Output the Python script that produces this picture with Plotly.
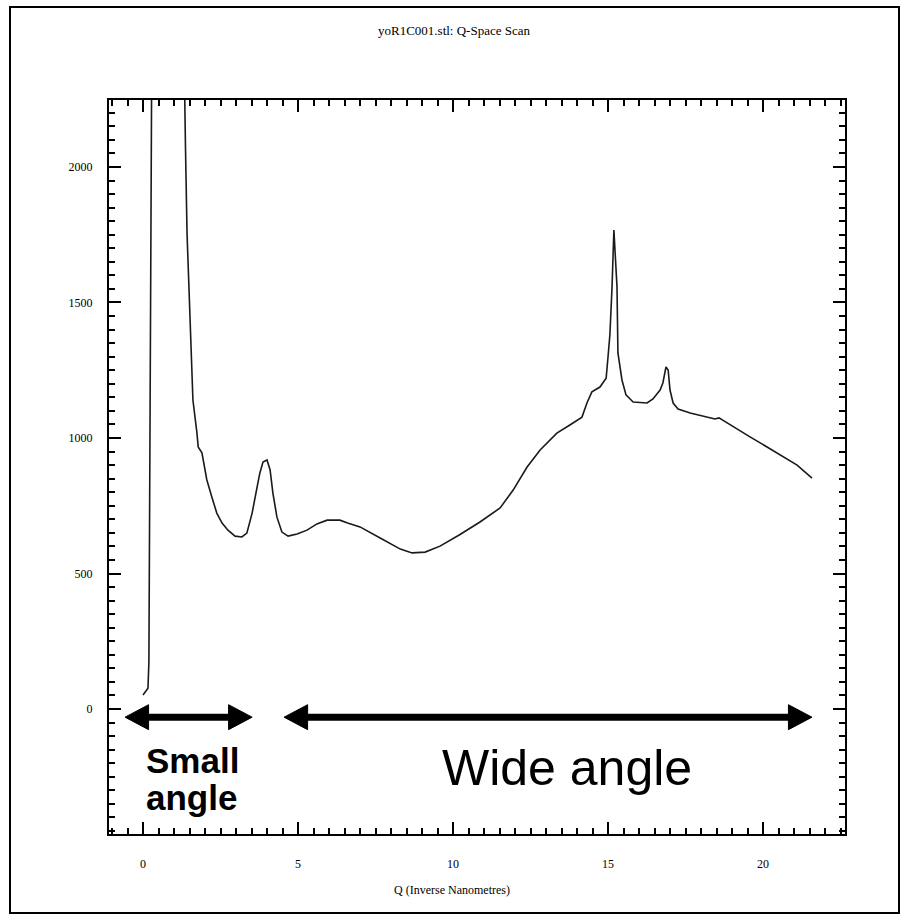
import plotly.graph_objects as go

# ---- data ----
q_values = [0.00, 0.16, 0.19, 0.22, 0.29, 1.30, 1.32, 1.37, 1.42, 1.61, 1.74, 1.78, 1.90,
            2.06, 2.22, 2.38, 2.55, 2.74, 2.97, 3.19, 3.35, 3.52, 3.68, 3.77, 3.87, 4.00,
            4.10, 4.19, 4.32, 4.48, 4.68, 4.97, 5.29, 5.61, 5.94, 6.35, 6.60, 7.00, 7.65,
            8.30, 8.68, 9.10, 9.58, 10.20, 10.87, 11.52, 11.94, 12.39, 12.81, 13.35, 13.77,
            14.16, 14.32, 14.48, 14.74, 14.94, 15.00, 15.06, 15.13, 15.19, 15.29, 15.32,
            15.45, 15.58, 15.81, 16.26, 16.45, 16.68, 16.77, 16.87, 16.94, 17.00, 17.10,
            17.26, 17.65, 18.19, 18.45, 18.58, 18.94, 19.58, 20.13, 20.65, 21.10, 21.58]
intensity = [52, 77, 173, 760, 2600, 2600, 2400, 2074, 1756, 1140, 1018, 967, 945,
             845, 782, 723, 686, 660, 638, 635, 649, 723, 819, 871, 911, 919,
             882, 797, 708, 653, 638, 646, 660, 683, 697, 697, 686, 672, 631,
             590, 576, 579, 601, 642, 690, 742, 808, 893, 956, 1018, 1048,
             1077, 1129, 1170, 1188, 1221, 1299, 1380, 1557, 1767, 1557, 1314,
             1214, 1159, 1133, 1129, 1144, 1177, 1203, 1262, 1251, 1177, 1129,
             1107, 1092, 1077, 1070, 1074, 1048, 1004, 967, 930, 900, 852]

x_tick_vals = [0, 5, 10, 15, 20]
x_tick_text = ["0", "5", "10", "15", "20"]
y_tick_vals = [0, 500, 1000, 1500, 2000]
y_tick_text = ["0", "500", "1000", "1500", "2000"]

small_angle_range = [-0.58, 3.52]
wide_angle_range = [4.55, 21.58]
arrow_level = -30

title_text = "yoR1C001.stl: Q-Space Scan"
x_title_text = "Q (Inverse Nanometres)"

# ---- layout geometry (pixels) ----
W, H = 903, 916
L, R, T, B = 109, 845, 100, 834
x_range = [-1.097, 22.645]
y_range = [-461, 2247]


def px_to_paper_x(px):
    return (px - L) / (R - L)


def py_to_paper_y(py):
    return (B - py) / (B - T)


fig = go.Figure()
fig.add_trace(go.Scatter(x=q_values, y=intensity, mode="lines",
                         line=dict(color="#1a1a1a", width=1.6), showlegend=False,
                         hoverinfo="skip"))

serif = "Liberation Serif"
axis_common = dict(showgrid=False, zeroline=False, showline=True, linecolor="black",
                   linewidth=2, ticks="inside", mirror="ticks", ticklen=12,
                   tickwidth=2, tickcolor="black",
                   tickfont=dict(family=serif, size=12, color="black"))

fig.update_xaxes(range=x_range, tickvals=x_tick_vals, ticktext=x_tick_text,
                 ticklabelstandoff=18,
                 minor=dict(ticks="inside", dtick=0.5, tick0=0, ticklen=6, tickwidth=2,
                            tickcolor="black"),
                 **axis_common)
fig.update_yaxes(range=y_range, tickvals=y_tick_vals, ticktext=y_tick_text,
                 ticklabelstandoff=12,
                 minor=dict(ticks="inside", dtick=50, tick0=0, ticklen=6, tickwidth=2,
                            tickcolor="black"),
                 **axis_common)

# arrows (shapes in data coordinates)
head_len = 0.76
head_half = 46
shaft_w = 7
shapes = []
for lo, hi in (small_angle_range, wide_angle_range):
    shapes.append(dict(type="line", xref="x", yref="y", x0=lo + head_len * 0.9,
                       x1=hi - head_len * 0.9, y0=arrow_level, y1=arrow_level,
                       line=dict(color="black", width=shaft_w)))
    shapes.append(dict(type="path", xref="x", yref="y",
                       path=f"M {lo} {arrow_level} L {lo + head_len} {arrow_level + head_half} "
                            f"L {lo + head_len} {arrow_level - head_half} Z",
                       fillcolor="black", line=dict(color="black", width=1)))
    shapes.append(dict(type="path", xref="x", yref="y",
                       path=f"M {hi} {arrow_level} L {hi - head_len} {arrow_level + head_half} "
                            f"L {hi - head_len} {arrow_level - head_half} Z",
                       fillcolor="black", line=dict(color="black", width=1)))

# outer frame
shapes.append(dict(type="rect", xref="paper", yref="paper",
                   x0=px_to_paper_x(10), x1=px_to_paper_x(899),
                   y0=py_to_paper_y(913), y1=py_to_paper_y(7),
                   line=dict(color="black", width=2), fillcolor="rgba(0,0,0,0)",
                   layer="below"))

sans = "Liberation Sans"
annotations = [
    dict(text=title_text, x=px_to_paper_x(454), y=py_to_paper_y(30), xref="paper",
         yref="paper", showarrow=False, xanchor="center", yanchor="middle",
         font=dict(family=serif, size=13, color="black")),
    dict(text=x_title_text, x=px_to_paper_x(452), y=py_to_paper_y(890), xref="paper",
         yref="paper", showarrow=False, xanchor="center", yanchor="middle",
         font=dict(family=serif, size=12, color="black")),
    dict(text="<b>Small</b>", x=px_to_paper_x(144), y=py_to_paper_y(760), xref="paper",
         yref="paper", showarrow=False, xanchor="left", yanchor="middle",
         font=dict(family=sans, size=35, color="black")),
    dict(text="<b>angle</b>", x=px_to_paper_x(144), y=py_to_paper_y(797), xref="paper",
         yref="paper", showarrow=False, xanchor="left", yanchor="middle",
         font=dict(family=sans, size=35, color="black")),
    dict(text="Wide angle", x=px_to_paper_x(567), y=py_to_paper_y(768), xref="paper",
         yref="paper", showarrow=False, xanchor="center", yanchor="middle",
         font=dict(family=sans, size=50, color="black")),
]

fig.update_layout(width=W, height=H, margin=dict(l=L, r=W - R, t=T, b=H - B),
                  paper_bgcolor="white", plot_bgcolor="white", shapes=shapes,
                  annotations=annotations, showlegend=False)

fig.write_html("out.html")
